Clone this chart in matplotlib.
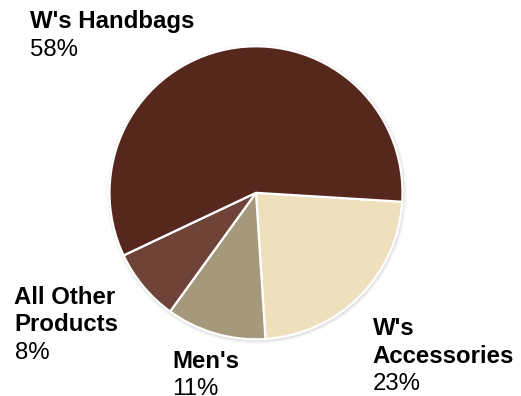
import matplotlib
matplotlib.use("Agg")
import matplotlib.pyplot as plt
from matplotlib.patches import Circle

# Sales mix by product category (share of total, %)
categories = ["W's Accessories", "Men's", "All Other Products", "W's Handbags"]
shares = [23, 11, 8, 58]
colors = ["#EEDFBD", "#A6987A", "#6F4337", "#55271D"]

# Label lines per category: bold name lines, then the percentage
name_lines = {
    "W's Handbags": ["W's Handbags"],
    "W's Accessories": ["W's", "Accessories"],
    "Men's": ["Men's"],
    "All Other Products": ["All Other", "Products"],
}
label_anchor = {  # left x, first baseline (pixel space, y down)
    "W's Handbags": (30, 28.3),
    "W's Accessories": (372.5, 335),
    "Men's": (172.5, 367.7),
    "All Other Products": (14.5, 303.7),
}

W, H = 521, 396
fig = plt.figure(figsize=(W / 100, H / 100), dpi=100)
ax = fig.add_axes([0, 0, 1, 1])
ax.set_xlim(0, W)
ax.set_ylim(0, H)
ax.set_aspect("equal")
ax.axis("off")

cx, cy, r = 256, H - 192.8, 146.5

# soft rim shadow
for k, a in enumerate([0.12, 0.07, 0.035]):
    ax.add_patch(Circle((cx + 0.8, cy - 1.2), r + 1.2 + k * 1.2,
                        facecolor="#7a7a7a", edgecolor="none", alpha=a, zorder=0))

ax.pie(shares, colors=colors, startangle=-3.5, counterclock=False,
       center=(cx, cy), radius=r, frame=True,
       wedgeprops=dict(edgecolor="white", linewidth=1.6))
ax.set_xlim(0, W)
ax.set_ylim(0, H)
ax.axis("off")

fs = 17.3
step = 27.6
font = "Liberation Sans"
for cat, val in zip(categories, shares):
    x, y0 = label_anchor[cat]
    lines = name_lines[cat]
    for i, line in enumerate(lines):
        ax.text(x, H - (y0 + i * step), line, fontsize=fs, fontweight="bold",
                family=font, color="black", ha="left", va="baseline")
    ax.text(x, H - (y0 + len(lines) * step), f"{val}%", fontsize=fs,
            family=font, color="black", ha="left", va="baseline")

fig.savefig("out.png", dpi=100, facecolor="white")
